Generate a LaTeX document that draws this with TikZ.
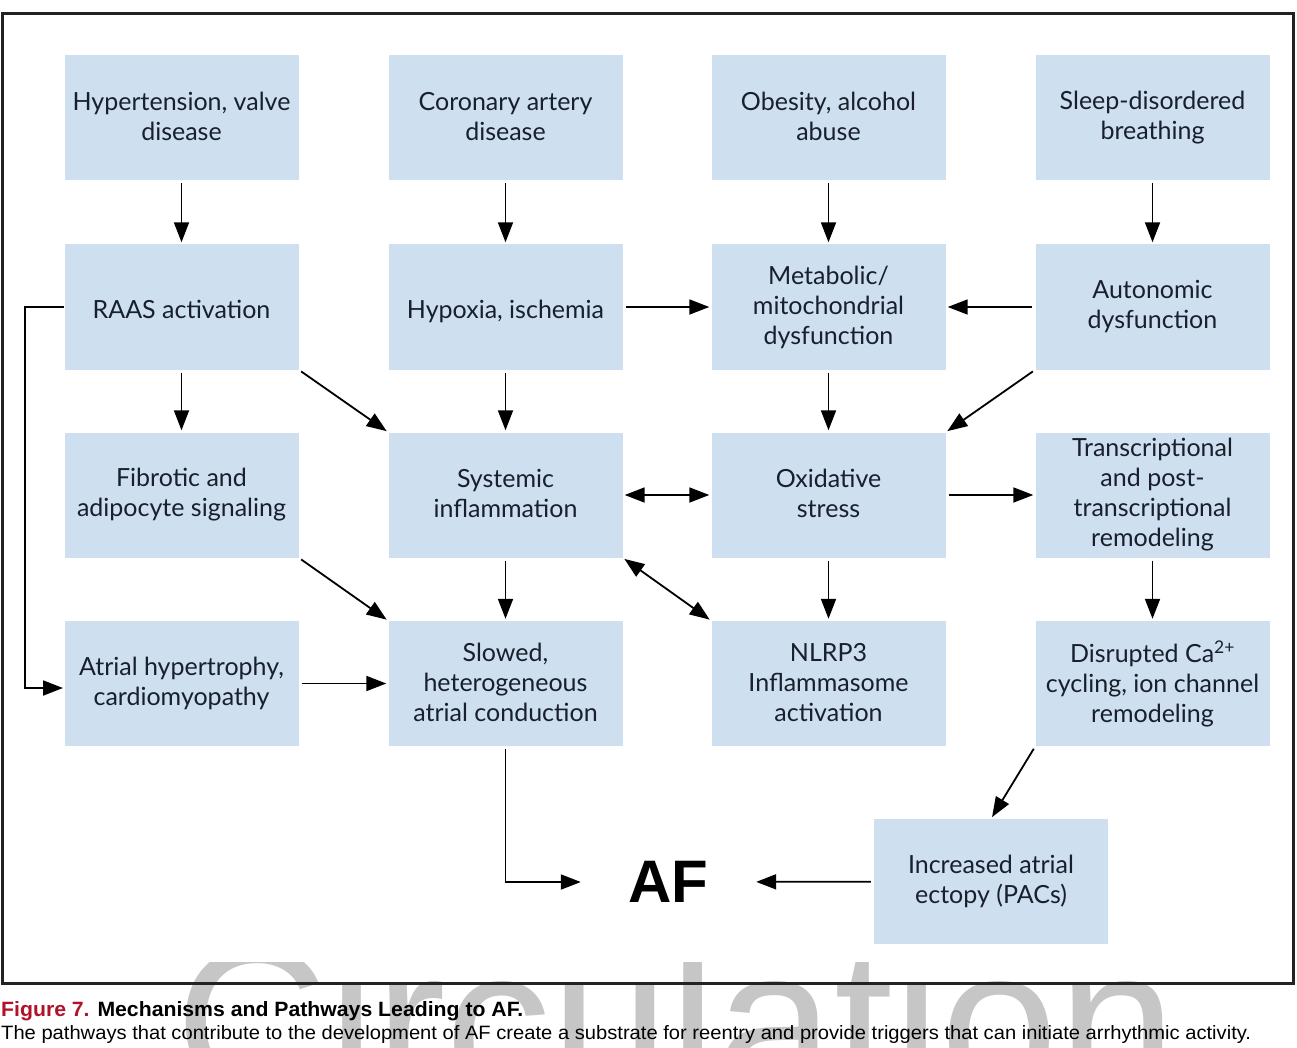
\documentclass[tikz,border=0pt]{standalone}
\usepackage{fontspec}
\usepackage{graphicx}
\usetikzlibrary{arrows.meta}
\newfontfamily\boxfont{Lato}
\newfontfamily\arialfont{Liberation Sans}
\definecolor{boxblue}{RGB}{206,223,239}
\definecolor{boxtext}{RGB}{24,31,45}
\definecolor{figred}{RGB}{178,18,40}
\definecolor{wmgray}{RGB}{198,198,198}
\definecolor{framegray}{RGB}{34,34,34}
\newcommand{\boxstrut}{\rule[-3pt]{0pt}{30pt}}
\tikzset{
  stepbox/.style={rectangle, fill=boxblue, minimum width=234pt, minimum height=125pt,
    inner sep=0pt, align=center, text=boxtext,
    font=\boxfont\fontsize{25}{30}\selectfont,
    execute at begin node=\boxstrut, execute at end node=\boxstrut},
  arr/.style={draw=black, line width=1.8pt, -{Triangle[length=20pt,width=15pt]},
    shorten >=2pt, shorten <=3pt},
  darr/.style={draw=black, line width=1.8pt, {Triangle[length=20pt,width=15pt]}-{Triangle[length=20pt,width=15pt]},
    shorten >=2pt, shorten <=2pt}
}
\begin{document}
\begin{tikzpicture}[x=1pt,y=-1pt]
\useasboundingbox (0,0) rectangle (1297,1048);
\fill[white] (0,0) rectangle (1297,1048);
% watermark
\begin{scope}
  \clip (0,962) rectangle (1297,1048);
  \node[anchor=base west, inner sep=0pt, text=wmgray, font=\arialfont\fontsize{212}{212}\selectfont] (wm) at (175,1095) {Circulation};
\end{scope}
% frame
\draw[framegray, line width=3pt] (2,14) rectangle (1293,983);
% boxes
\node[stepbox] (hyp)  at (181.5,117.5) {Hypertension, valve\\disease};
\node[stepbox] (cad)  at (505.5,117.5) {Coronary artery\\disease};
\node[stepbox] (obe)  at (828.5,117.5) {Obesity, alcohol\\abuse};
\node[stepbox] (sleep) at (1152.5,117.5) {Sleep-disordered\\breathing};
\node[stepbox] (raas) at (181.5,307) {RAAS activation};
\node[stepbox] (hypox) at (505.5,307) {Hypoxia, ischemia};
\node[stepbox] (meta) at (828.5,307) {Metabolic/\\mitochondrial\\dysfunction};
\node[stepbox] (auto) at (1152.5,307) {Autonomic\\dysfunction};
\node[stepbox] (fib)  at (181.5,495) {Fibrotic and\\adipocyte signaling};
\node[stepbox] (sys)  at (505.5,495) {Systemic\\inflammation};
\node[stepbox] (oxi)  at (828.5,495) {Oxidative\\stress};
\node[stepbox] (trans) at (1152.5,495) {Transcriptional\\and post-\\transcriptional\\remodeling};
\node[stepbox] (atr)  at (181.5,683.5) {Atrial hypertrophy,\\cardiomyopathy};
\node[stepbox] (slow) at (505.5,683.5) {Slowed,\\heterogeneous\\atrial conduction};
\node[stepbox] (nlrp) at (828.5,683.5) {NLRP3\\Inflammasome\\activation};
\node[stepbox] (dis)  at (1152.5,683.5) {Disrupted Ca\textsuperscript{2+}\\cycling, ion channel\\remodeling};
\node[stepbox] (ect)  at (991,881.5) {Increased atrial\\ectopy (PACs)};
\node[inner sep=0pt, minimum width=171pt, minimum height=50pt, font=\arialfont\bfseries\fontsize{60}{60}\selectfont] (af) at (668.5,882) {AF};
% connectors
\draw[arr] (hyp) -- (raas);
\draw[arr] (cad) -- (hypox);
\draw[arr] (obe) -- (meta);
\draw[arr] (sleep) -- (auto);
\draw[arr] (hypox) -- (meta);
\draw[arr] (auto) -- (meta);
\draw[arr] (raas) -- (fib);
\draw[arr] (raas.south east) -- (sys.north west);
\draw[arr] (hypox) -- (sys);
\draw[arr] (meta) -- (oxi);
\draw[arr] (auto.south west) -- (oxi.north east);
\draw[darr] (sys) -- (oxi);
\draw[arr] (oxi) -- (trans);
\draw[arr] (fib.south east) -- (slow.north west);
\draw[arr] (sys) -- (slow);
\draw[darr] (sys.south east) -- (nlrp.north west);
\draw[arr] (oxi) -- (nlrp);
\draw[arr] (trans) -- (dis);
\coordinate (elbowtop) at (25,307);
\coordinate (atrin) at (65,688);
\draw[arr, shorten <=0pt] (raas.west) -- (elbowtop) |- (atrin);
\draw[arr] (atr) -- (slow);
\draw[arr] (slow.south) |- (af.west);
\draw[arr] (ect) -- (af);
\draw[arr] (dis.south west) -- (ect.north);
% caption
\node[anchor=base west, inner sep=0pt, font=\arialfont\bfseries] (cap1) at (1,1016)
  {\resizebox{522pt}{15pt}{\textcolor{figred}{Figure 7.} Mechanisms and Pathways Leading to AF.}};
\node[anchor=base west, inner sep=0pt, font=\arialfont] (cap2) at (1,1039)
  {\resizebox{1250pt}{14pt}{The pathways that contribute to the development of AF create a substrate for reentry and provide triggers that can initiate arrhythmic activity.}};
\end{tikzpicture}
\end{document}
